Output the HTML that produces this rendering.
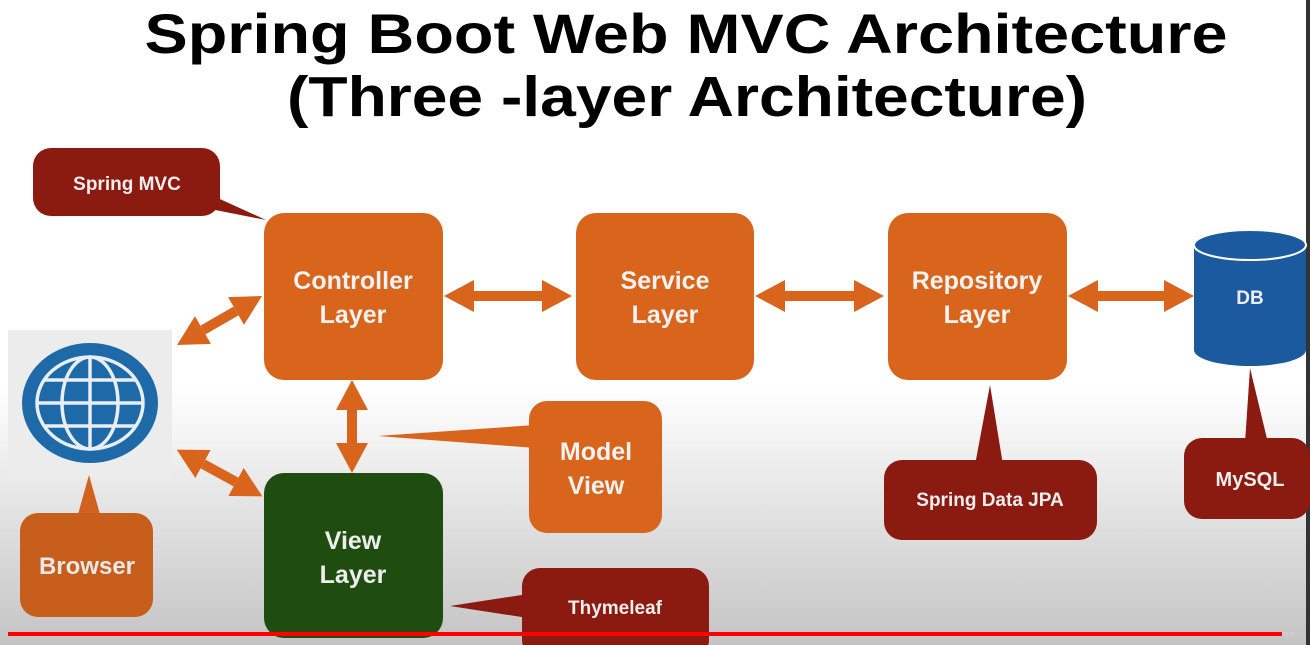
<!DOCTYPE html>
<html><head><meta charset="utf-8"><style>
html,body{margin:0;padding:0;width:1310px;height:645px;overflow:hidden}
svg{display:block}
text{font-family:"Liberation Sans",Arial,sans-serif;font-weight:bold}
</style></head><body>
<svg width="1310" height="645" viewBox="0 0 1310 645" xmlns="http://www.w3.org/2000/svg">
<defs>
<linearGradient id="bg" x1="0" y1="0" x2="0" y2="1">
<stop offset="0" stop-color="#ffffff"/><stop offset="0.6" stop-color="#ffffff"/><stop offset="1" stop-color="#c4c4c4"/>
</linearGradient>
<marker id="ah" markerUnits="userSpaceOnUse" markerWidth="30" markerHeight="32" refX="0" refY="16" orient="auto-start-reverse" viewBox="0 0 30 32">
<path d="M0,0 L30,16 L0,32 Z" fill="#d9641c"/>
</marker>
</defs>
<rect width="1310" height="645" fill="url(#bg)"/>
<rect x="1306" y="0" width="4" height="645" fill="#333"/>

<text x="686" y="53" font-size="56" text-anchor="middle" textLength="1083" lengthAdjust="spacingAndGlyphs" fill="#000">Spring Boot Web MVC Architecture</text>
<text x="687" y="116" font-size="57" text-anchor="middle" textLength="800" lengthAdjust="spacingAndGlyphs" fill="#000">(Three -layer Architecture)</text>

<!-- Spring MVC callout -->
<path d="M200,190 L266,220 L190,205 Z" fill="#8b1a10"/>
<rect x="33" y="148" width="187" height="68" rx="18" fill="#8b1a10"/>
<text x="127" y="190" font-size="19" text-anchor="middle" fill="#eee">Spring MVC</text>

<!-- Layers -->
<rect x="264" y="213" width="179" height="167" rx="20" fill="#d9641c"/>
<text x="353" y="289" font-size="25" text-anchor="middle" fill="#f2f2f2">Controller</text>
<text x="353" y="323" font-size="25" text-anchor="middle" fill="#f2f2f2">Layer</text>
<rect x="576" y="213" width="178" height="167" rx="20" fill="#d9641c"/>
<text x="665" y="289" font-size="25" text-anchor="middle" fill="#f2f2f2">Service</text>
<text x="665" y="323" font-size="25" text-anchor="middle" fill="#f2f2f2">Layer</text>
<rect x="888" y="213" width="179" height="167" rx="20" fill="#d9641c"/>
<text x="977" y="289" font-size="25" text-anchor="middle" fill="#f2f2f2">Repository</text>
<text x="977" y="323" font-size="25" text-anchor="middle" fill="#f2f2f2">Layer</text>

<!-- DB -->
<path d="M1194,245 L1194,350 A56,16 0 0 0 1306,350 L1306,245 Z" fill="#1c5aa0"/>
<ellipse cx="1250" cy="245" rx="56" ry="15" fill="#1c5aa0" stroke="#fff" stroke-width="2"/>
<text x="1250" y="304" font-size="19" text-anchor="middle" fill="#eee">DB</text>

<!-- MySQL -->
<path d="M1250,368 L1245,443 L1268,443 Z" fill="#8b1a10"/>
<rect x="1184" y="438" width="126" height="81" rx="18" fill="#8b1a10"/>
<text x="1250" y="486" font-size="20" text-anchor="middle" fill="#eee">MySQL</text>

<!-- Spring Data JPA -->
<path d="M990,385 L975,465 L1003,465 Z" fill="#8b1a10"/>
<rect x="884" y="460" width="213" height="80" rx="18" fill="#8b1a10"/>
<text x="990" y="506" font-size="19" text-anchor="middle" fill="#eee">Spring Data JPA</text>

<!-- Browser icon -->
<rect x="8" y="330" width="164" height="148" fill="#ececec"/>
<ellipse cx="90" cy="403" rx="68" ry="60" fill="#1e6aa8"/>
<g fill="none" stroke="#e8eef4" stroke-width="3.5">
<ellipse cx="90" cy="403" rx="53" ry="46"/>
<ellipse cx="90" cy="403" rx="28" ry="46"/>
<line x1="90" y1="357" x2="90" y2="449"/>
<line x1="37" y1="403" x2="143" y2="403"/>
<line x1="45" y1="380" x2="135" y2="380"/>
<line x1="45" y1="426" x2="135" y2="426"/>
</g>

<!-- Browser box -->
<path d="M89,475 L77,518 L101,518 Z" fill="#d0611e"/>
<rect x="20" y="513" width="133" height="104" rx="18" fill="#c85e1c"/>
<text x="87" y="574" font-size="24" text-anchor="middle" fill="#e8e8e8">Browser</text>

<!-- View layer -->
<rect x="264" y="473" width="179" height="165" rx="20" fill="#1e4d0f"/>
<text x="353" y="549" font-size="25" text-anchor="middle" fill="#eee">View</text>
<text x="353" y="583" font-size="25" text-anchor="middle" fill="#eee">Layer</text>

<!-- Model View -->
<path d="M378,436 L535,425 L535,448 Z" fill="#d9641c"/>
<rect x="529" y="401" width="133" height="132" rx="18" fill="#d9641c"/>
<text x="596" y="460" font-size="25" text-anchor="middle" fill="#f2f2f2">Model</text>
<text x="596" y="494" font-size="25" text-anchor="middle" fill="#f2f2f2">View</text>

<!-- Thymeleaf -->
<path d="M450,606 L528,594 L528,618 Z" fill="#8b1a10"/>
<rect x="522" y="568" width="187" height="90" rx="18" fill="#8b1a10"/>
<text x="615" y="614" font-size="19" text-anchor="middle" fill="#eee">Thymeleaf</text>

<!-- arrows -->
<g stroke="#d9641c" stroke-width="10" marker-start="url(#ah)" marker-end="url(#ah)">
<line x1="474" y1="296" x2="542" y2="296"/>
<line x1="785" y1="296" x2="854" y2="296"/>
<line x1="1098" y1="296" x2="1164" y2="296"/>
<line x1="203" y1="330" x2="236" y2="311"/>
<line x1="203" y1="464" x2="236" y2="482"/>
<line x1="352" y1="410" x2="352" y2="443"/>
</g>

<!-- progress bar -->
<rect x="8" y="632" width="1274" height="4" fill="#f00"/>
<rect x="1282" y="632" width="13" height="4" fill="#ccc"/>
</svg>
</body></html>
